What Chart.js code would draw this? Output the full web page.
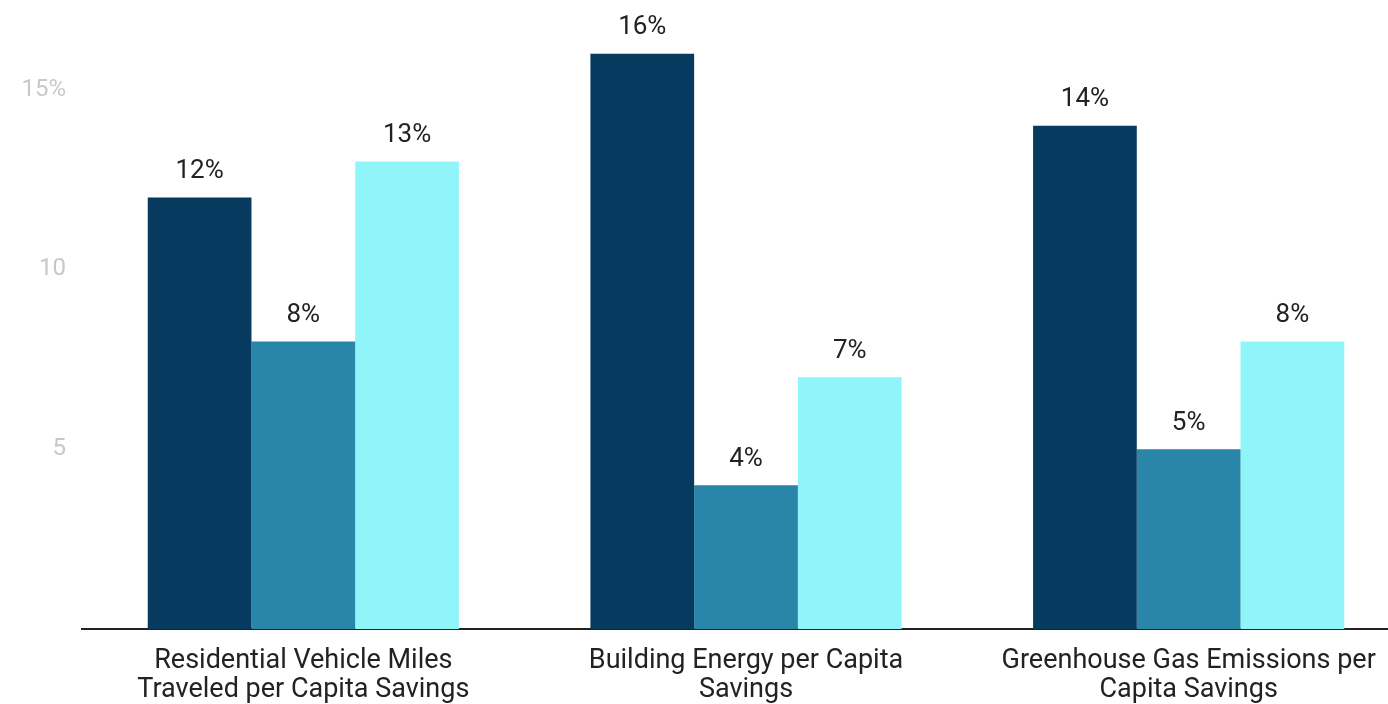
<!DOCTYPE html>
<html>
<head>
<meta charset="utf-8">
<script src="https://cdn.jsdelivr.net/npm/chart.js@4/dist/chart.umd.min.js"></script>
<style>
  html, body { margin: 0; padding: 0; background: #fff; overflow: hidden; }
  #wrap { width: 1388px; height: 704px; overflow: hidden; }
  #box { width: 1410px; height: 704px; }
</style>
</head>
<body>
<div id="wrap"><div id="box"><canvas id="savingsChart"></canvas></div></div>
<script>
'use strict';

const categories = [
    ['Residential Vehicle Miles', 'Traveled per Capita Savings'],
    ['Building Energy per Capita', 'Savings'],
    ['Greenhouse Gas Emissions per', 'Capita Savings']
];
const seriesA = [12, 16, 14];
const seriesB = [8, 4, 5];
const seriesC = [13, 7, 8];
const yTicks = [5, 10, 15];
const yTickLabels = ['5', '10', '15%'];

// draws "12%" etc above every bar
const valueLabels = {
    id: 'valueLabels',
    afterDatasetsDraw(chart) {
        const ctx = chart.ctx;
        ctx.save();
        ctx.font = '26px Roboto';
        ctx.fillStyle = '#222';
        ctx.textAlign = 'center';
        ctx.textBaseline = 'bottom';
        chart.data.datasets.forEach((ds, i) => {
            chart.getDatasetMeta(i).data.forEach((bar, j) => {
                ctx.fillText(ds.data[j] + '%', bar.x, bar.y - 13);
            });
        });
        ctx.restore();
    }
};

const ctx = document.getElementById('savingsChart').getContext('2d');
new Chart(ctx, {
    type: 'bar',
    data: {
        labels: categories,
        datasets: [
            { data: seriesA, backgroundColor: '#073a5f' },
            { data: seriesB, backgroundColor: '#2a86a8' },
            { data: seriesC, backgroundColor: '#8ff5f8' }
        ]
    },
    options: {
        responsive: true,
        maintainAspectRatio: false,
        animation: false,
        categoryPercentage: 0.703,
        barPercentage: 1,
        layout: { padding: 0 },
        plugins: {
            legend: { display: false },
            tooltip: { enabled: false }
        },
        scales: {
            x: {
                grid: { display: false, drawTicks: false },
                border: { display: true, color: '#222', width: 2 },
                ticks: {
                    font: { family: 'Roboto', size: 27, lineHeight: 1.08 },
                    color: '#222',
                    padding: 18,
                    maxRotation: 0,
                    autoSkip: false
                },
                afterFit(scale) { scale.height = 75; }
            },
            y: {
                min: 0,
                max: 16.65,
                grid: { display: false, drawTicks: false },
                border: { display: false },
                afterBuildTicks(scale) {
                    scale.ticks = yTicks.map(v => ({ value: v }));
                },
                ticks: {
                    font: { family: 'Roboto', size: 24 },
                    color: '#c8c8c8',
                    padding: 16,
                    callback: function(v) {
                        const k = yTicks.indexOf(v);
                        return k >= 0 ? yTickLabels[k] : '';
                    }
                },
                afterFit(scale) { scale.width = 82; }
            }
        }
    },
    plugins: [valueLabels]
});
</script>
</body>
</html>
